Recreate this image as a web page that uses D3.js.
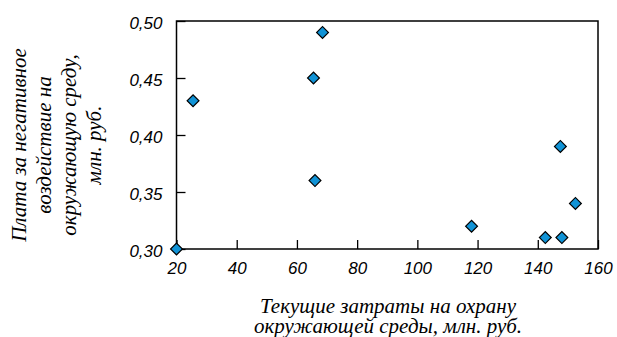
<!DOCTYPE html>
<html>
<head>
<meta charset="utf-8">
<script src="https://cdn.jsdelivr.net/npm/d3@7"></script>
<style>
    body { margin: 0; background: #fff; }
</style>
</head>
<body>
<div id="wrapper"></div>
<script>
const costs = [20, 25.5, 65.5, 68.5, 66, 118, 142.5, 148, 147.5, 152.5];
const payments = [0.30, 0.43, 0.45, 0.49, 0.36, 0.32, 0.31, 0.31, 0.39, 0.34];
const xTicks = [20, 40, 60, 80, 100, 120, 140, 160];
const yTicks = [0.30, 0.35, 0.40, 0.45, 0.50];
const yTitle = ["Плата за негативное", "воздействие на", "окружающую среду,", "млн. руб."];
const xTitle = ["Текущие затраты на охрану", "окружающей среды, млн. руб."];

let dimension = {
    width: 617,
    height: 337,
    margin: { top: 21, left: 176.5, bottom: 88, right: 19 }
}
dimension.boundedWidth = dimension.width - dimension.margin.left - dimension.margin.right;
dimension.boundedHeight = dimension.height - dimension.margin.top - dimension.margin.bottom;

const data = costs.map((c, i) => ({ x: c, y: payments[i] }));

const svg = d3.select("#wrapper").append("svg")
    .attr("width", dimension.width)
    .attr("height", dimension.height);

const bounds = svg.append("g")
    .attr("transform", `translate(${dimension.margin.left},${dimension.margin.top})`);

const xScale = d3.scaleLinear().domain([20, 160]).range([0, dimension.boundedWidth]);
const yScale = d3.scaleLinear().domain([0.30, 0.50]).range([dimension.boundedHeight, 0]);

const fmt = d => d3.format(".2f")(d).replace(".", ",");

function styleTicks(g) {
    g.select(".domain").remove();
    g.selectAll("line").attr("stroke", "#000").attr("stroke-width", 1.3);
    g.selectAll("text")
        .style("font-family", "'Liberation Sans', Arial, sans-serif")
        .style("font-style", "italic")
        .style("font-size", "17px")
        .attr("fill", "#000");
}

const xAxis = bounds.append("g")
    .attr("transform", `translate(0,${dimension.boundedHeight})`)
    .call(d3.axisBottom(xScale).tickValues(xTicks).tickSize(-9).tickPadding(13))
    .call(styleTicks);

const yAxis = bounds.append("g")
    .call(d3.axisLeft(yScale).tickValues(yTicks).tickFormat(fmt).tickSize(-9).tickPadding(14))
    .call(styleTicks);
yAxis.selectAll("text").attr("dy", "0.45em");

bounds.append("rect")
    .attr("width", dimension.boundedWidth)
    .attr("height", dimension.boundedHeight)
    .attr("fill", "none")
    .attr("stroke", "#000")
    .attr("stroke-width", 1.5);

bounds.selectAll(".pt")
    .data(data)
    .enter()
    .append("path")
    .attr("class", "pt")
    .attr("d", d3.symbol().type(d3.symbolSquare).size(70))
    .attr("transform", d => `translate(${xScale(d.x)},${yScale(d.y)}) rotate(45)`)
    .attr("fill", "#1193d6")
    .attr("stroke", "#000")
    .attr("stroke-width", 1.2);

function titleText(sel) {
    return sel
        .style("font-family", "'Liberation Serif', 'Times New Roman', 'DejaVu Serif', serif")
        .style("font-style", "italic")
        .style("font-size", "21px")
        .attr("fill", "#000")
        .attr("text-anchor", "middle");
}

svg.append("text")
    .call(titleText)
    .attr("transform", "translate(0,145) rotate(-90)")
    .selectAll("tspan")
    .data(yTitle)
    .enter()
    .append("tspan")
    .attr("x", 0)
    .attr("y", (d, i) => 26 + i * 25)
    .text(d => d);

svg.append("text")
    .call(titleText)
    .selectAll("tspan")
    .data(xTitle)
    .enter()
    .append("tspan")
    .attr("x", 388)
    .attr("y", (d, i) => 313 + i * 20)
    .text(d => d);
</script>
</body>
</html>
